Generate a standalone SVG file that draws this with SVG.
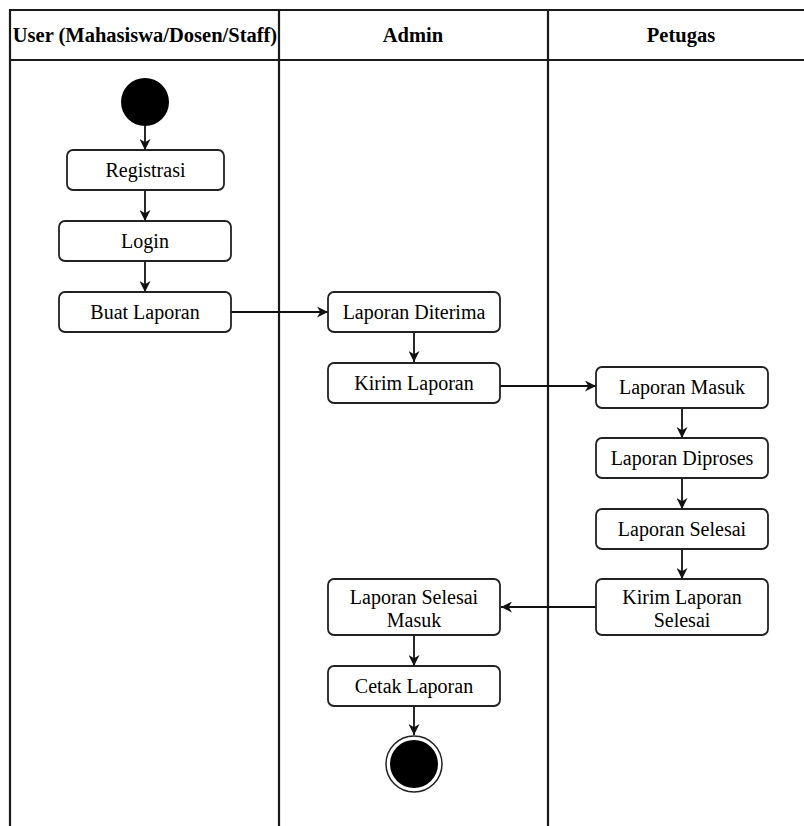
<svg xmlns="http://www.w3.org/2000/svg" width="804" height="826" viewBox="0 0 804 826">
<style>
.lane{stroke:#1a1a1a;stroke-width:2.2;fill:none}
.box{fill:#fff;stroke:#222;stroke-width:1.8}
.t{font-family:"Liberation Serif","Times New Roman",serif;font-size:20px;fill:#000;text-anchor:middle;dominant-baseline:central}
.h{font-family:"Liberation Serif","Times New Roman",serif;font-size:20.5px;font-weight:bold;fill:#000;text-anchor:middle;dominant-baseline:central}
.c{stroke:#111;stroke-width:1.8;fill:none;marker-end:url(#ah)}
</style>
<defs>
<marker id="ah" viewBox="0 0 10 10" refX="10" refY="5" markerWidth="11" markerHeight="11" markerUnits="userSpaceOnUse" orient="auto">
<path d="M0,0 L10,5 L0,10 L3,5 Z" fill="#111"/>
</marker>
</defs>
<rect width="804" height="826" fill="#fff"/>
<g id="lanes">
<path class="lane" d="M10,826 V10 H804 M10,60 H804 M279,10 V826 M548,10 V826"/>
<text class="h" x="145" y="35">User (Mahasiswa/Dosen/Staff)</text>
<text class="h" x="413" y="35">Admin</text>
<text class="h" x="681" y="35">Petugas</text>
</g>
<g id="connectors">
<path class="c" d="M145,126 V150"/>
<path class="c" d="M145,190 V221"/>
<path class="c" d="M145,261 V292"/>
<path class="c" d="M231,312 H328"/>
<path class="c" d="M414,332 V362"/>
<path class="c" d="M500,386 H596"/>
<path class="c" d="M682,408 V438"/>
<path class="c" d="M682,478 V509"/>
<path class="c" d="M682,549 V579"/>
<path class="c" d="M596,607 H501"/>
<path class="c" d="M414,635 V666"/>
<path class="c" d="M414,706 V735"/>
</g>
<g id="start"><circle cx="145" cy="102" r="24" fill="#000"/></g>
<g id="registrasi"><rect class="box" x="67" y="150" width="157" height="40" rx="6"/><text class="t" x="145.5" y="170">Registrasi</text></g>
<g id="login"><rect class="box" x="59" y="221" width="172" height="40" rx="6"/><text class="t" x="145" y="241">Login</text></g>
<g id="buat-laporan"><rect class="box" x="59" y="292" width="172" height="40" rx="6"/><text class="t" x="145" y="312">Buat Laporan</text></g>
<g id="laporan-diterima"><rect class="box" x="328" y="292" width="172" height="40" rx="6"/><text class="t" x="414" y="312">Laporan Diterima</text></g>
<g id="kirim-laporan"><rect class="box" x="328" y="363" width="172" height="40" rx="6"/><text class="t" x="414" y="383">Kirim Laporan</text></g>
<g id="laporan-masuk"><rect class="box" x="596" y="367" width="172" height="41" rx="6"/><text class="t" x="682" y="387">Laporan Masuk</text></g>
<g id="laporan-diproses"><rect class="box" x="596" y="438" width="172" height="40" rx="6"/><text class="t" x="682" y="458">Laporan Diproses</text></g>
<g id="laporan-selesai"><rect class="box" x="596" y="509" width="172" height="40" rx="6"/><text class="t" x="682" y="529">Laporan Selesai</text></g>
<g id="kirim-laporan-selesai"><rect class="box" x="596" y="579" width="172" height="56" rx="6"/><text class="t" x="682" y="597">Kirim Laporan</text><text class="t" x="682" y="620">Selesai</text></g>
<g id="laporan-selesai-masuk"><rect class="box" x="328" y="579" width="172" height="56" rx="6"/><text class="t" x="414" y="597">Laporan Selesai</text><text class="t" x="414" y="620">Masuk</text></g>
<g id="cetak-laporan"><rect class="box" x="328" y="666" width="172" height="40" rx="6"/><text class="t" x="414" y="686">Cetak Laporan</text></g>
<g id="end"><circle cx="414" cy="764" r="28" fill="#fff" stroke="#222" stroke-width="1.5"/><circle cx="414" cy="764" r="24" fill="#000"/></g>
</svg>
